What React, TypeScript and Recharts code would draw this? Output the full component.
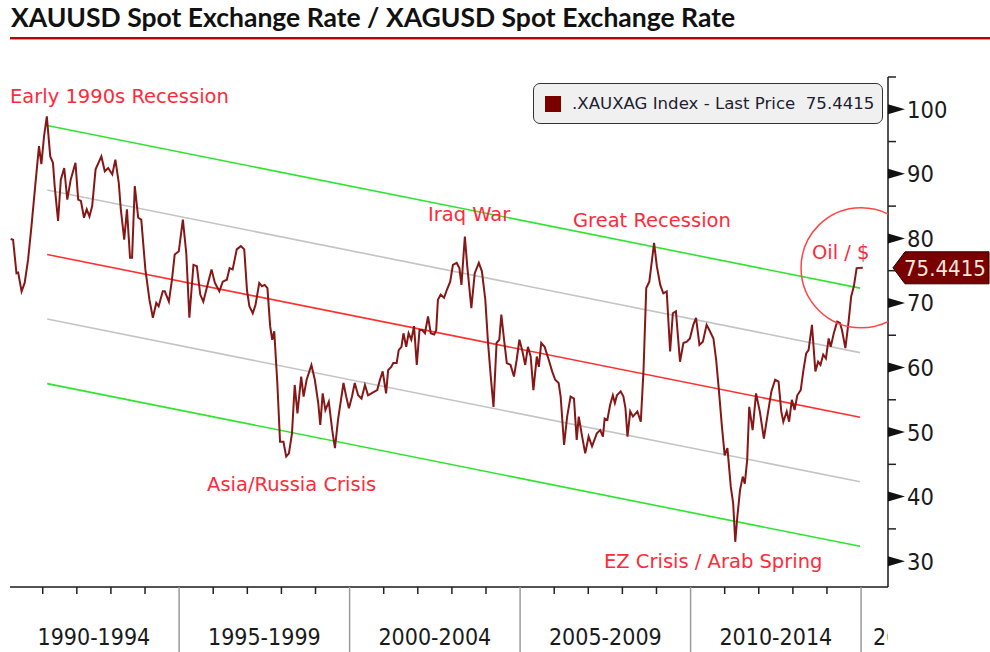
import {
  ComposedChart,
  Legend,
  Line,
  ReferenceDot,
  ReferenceLine,
  XAxis,
  YAxis,
} from "recharts";

// gold / silver ratio as [year, ratio]
const RATIO_1990S: [number, number][] = [
  [1990.06, 79.9], [1990.13, 79.8], [1990.23, 74.6], [1990.28, 74.7], [1990.38, 71.8],
  [1990.47, 73.1], [1990.57, 76.7], [1990.67, 81.9], [1990.77, 87.6], [1990.89, 94.3],
  [1990.96, 91.5], [1991.04, 95.9], [1991.12, 98.9], [1991.22, 92.7], [1991.3, 91.7],
  [1991.35, 88.1], [1991.45, 82.7], [1991.53, 89.1], [1991.63, 90.9], [1991.72, 86.0],
  [1991.82, 89.1], [1991.96, 91.7], [1992.04, 86.0], [1992.12, 85.8], [1992.21, 83.2],
  [1992.29, 84.5], [1992.37, 83.4], [1992.45, 85.0], [1992.55, 90.7], [1992.72, 92.7],
  [1992.82, 90.4], [1992.92, 90.9], [1993.04, 89.9], [1993.13, 92.2], [1993.23, 88.6],
  [1993.29, 84.5], [1993.39, 79.8], [1993.47, 84.5], [1993.56, 77.0], [1993.62, 77.0],
  [1993.7, 88.1], [1993.8, 83.2], [1993.89, 82.9], [1994.01, 75.2], [1994.13, 70.5],
  [1994.23, 67.7], [1994.33, 70.0], [1994.4, 69.5], [1994.52, 71.8], [1994.58, 71.8],
  [1994.7, 70.2], [1994.79, 73.6], [1994.87, 77.5], [1994.99, 78.0], [1995.11, 82.9],
  [1995.21, 77.7], [1995.3, 67.7], [1995.42, 75.9], [1995.52, 75.7], [1995.62, 71.3],
  [1995.71, 70.2], [1995.81, 72.3], [1995.95, 75.2], [1996.05, 73.1], [1996.18, 71.8],
  [1996.28, 73.3], [1996.4, 73.6], [1996.48, 75.4], [1996.57, 75.2], [1996.69, 78.3],
  [1996.81, 78.8], [1996.91, 78.3], [1996.99, 72.0], [1997.06, 69.5], [1997.16, 68.4],
  [1997.24, 69.7], [1997.35, 73.1], [1997.43, 72.6], [1997.51, 72.8], [1997.59, 72.3],
  [1997.67, 66.4], [1997.73, 64.3], [1997.79, 65.6], [1997.88, 57.6], [1997.96, 48.5],
  [1998.06, 48.5], [1998.14, 46.2], [1998.22, 46.7], [1998.31, 49.8], [1998.39, 57.3],
  [1998.47, 52.9], [1998.58, 58.6], [1998.65, 55.5], [1998.74, 58.1], [1998.88, 60.4],
  [1998.98, 58.1], [1999.08, 54.5], [1999.14, 51.1], [1999.21, 56.0], [1999.29, 53.4],
  [1999.39, 54.7], [1999.49, 50.3], [1999.57, 47.5], [1999.66, 51.9], [1999.82, 57.6],
  [1999.9, 55.5], [1999.98, 53.7],
];

const RATIO_2000S: [number, number][] = [
  [2000.07, 55.5], [2000.15, 57.6], [2000.25, 55.7], [2000.35, 55.2], [2000.45, 57.3],
  [2000.54, 55.7], [2000.64, 56.0], [2000.74, 56.3], [2000.81, 56.5], [2000.89, 58.1],
  [2000.97, 59.4], [2001.07, 56.0], [2001.13, 59.6], [2001.22, 60.1], [2001.28, 60.7],
  [2001.38, 60.7], [2001.44, 62.7], [2001.52, 63.2], [2001.58, 65.3], [2001.66, 63.2],
  [2001.73, 65.3], [2001.81, 64.3], [2001.89, 66.4], [2001.97, 60.4], [2002.05, 65.8],
  [2002.13, 65.8], [2002.21, 65.3], [2002.3, 67.9], [2002.38, 65.3], [2002.48, 65.1],
  [2002.54, 65.8], [2002.59, 70.5], [2002.67, 71.3], [2002.77, 70.8], [2002.85, 72.0],
  [2002.95, 73.3], [2003.03, 75.9], [2003.14, 76.2], [2003.22, 75.4], [2003.28, 72.8],
  [2003.38, 80.3], [2003.45, 75.7], [2003.57, 69.2], [2003.67, 74.6], [2003.79, 76.2],
  [2003.88, 74.9], [2003.98, 70.5], [2004.06, 63.8], [2004.14, 58.6], [2004.22, 53.9],
  [2004.31, 63.8], [2004.39, 64.3], [2004.45, 68.2], [2004.53, 64.3], [2004.61, 60.7],
  [2004.72, 60.4], [2004.82, 58.6], [2004.9, 61.2], [2004.98, 64.3], [2005.06, 62.7],
  [2005.15, 60.4], [2005.23, 63.2], [2005.31, 61.7], [2005.39, 56.5], [2005.49, 61.7],
  [2005.55, 60.1], [2005.62, 63.8], [2005.72, 63.2], [2005.84, 61.2], [2005.94, 59.4],
  [2006.03, 58.1], [2006.13, 57.6], [2006.19, 55.5], [2006.29, 48.0], [2006.38, 52.4],
  [2006.48, 55.5], [2006.58, 55.2], [2006.66, 48.8], [2006.72, 52.4], [2006.82, 49.3],
  [2006.91, 46.7], [2007.01, 49.3], [2007.11, 47.8], [2007.25, 49.8], [2007.35, 50.3],
  [2007.43, 49.3], [2007.48, 52.1], [2007.56, 51.9], [2007.64, 54.2], [2007.72, 55.7],
  [2007.78, 54.5], [2007.84, 55.7], [2007.95, 56.3], [2008.03, 55.5], [2008.09, 53.7],
  [2008.15, 49.3], [2008.23, 53.2], [2008.31, 52.4], [2008.44, 53.2], [2008.54, 51.6],
  [2008.62, 59.6], [2008.7, 72.3], [2008.79, 73.3], [2008.93, 79.3], [2009.01, 75.7],
  [2009.11, 72.8], [2009.2, 71.5], [2009.3, 71.8], [2009.4, 62.5], [2009.48, 68.4],
  [2009.57, 68.7], [2009.69, 60.9], [2009.79, 63.8], [2009.89, 64.0], [2009.98, 64.5],
];

const RATIO_2010S: [number, number][] = [
  [2010.08, 66.6], [2010.16, 67.7], [2010.26, 63.5], [2010.36, 64.0], [2010.47, 66.6],
  [2010.55, 65.8], [2010.67, 64.5], [2010.75, 61.2], [2010.83, 56.5], [2010.92, 50.8],
  [2011.0, 46.4], [2011.08, 47.5], [2011.18, 41.5], [2011.25, 38.9], [2011.31, 33.0],
  [2011.37, 36.8], [2011.45, 41.0], [2011.53, 43.1], [2011.59, 42.0], [2011.66, 45.7],
  [2011.72, 53.9], [2011.82, 50.3], [2011.92, 56.0], [2012.03, 53.2], [2012.15, 49.0],
  [2012.25, 52.4], [2012.37, 56.3], [2012.48, 58.1], [2012.58, 57.8], [2012.66, 53.2],
  [2012.72, 51.6], [2012.82, 53.2], [2012.89, 51.6], [2012.97, 55.0], [2013.05, 53.4],
  [2013.13, 55.7], [2013.23, 56.5], [2013.31, 59.6], [2013.39, 62.2], [2013.46, 62.7],
  [2013.56, 66.6], [2013.66, 59.4], [2013.74, 60.9], [2013.81, 60.4], [2013.89, 62.0],
  [2013.97, 61.4], [2014.05, 64.5], [2014.11, 63.2], [2014.2, 65.3], [2014.3, 67.1],
  [2014.38, 66.9], [2014.44, 65.8], [2014.54, 63.0], [2014.63, 66.9], [2014.71, 71.0],
  [2014.79, 72.6], [2014.87, 75.4], [2015.05, 75.4415],
];

const LAST_PRICE = 75.4415;
const SERIES_NAME = ".XAUXAG Index - Last Price";

// regression channel: endpoints of the centre line, bands at +/- 10 and 20
const CHANNEL_X = [1991.13, 2014.97];
const CHANNEL_MID = [77.5, 52.3];
const CHANNEL_OFFSETS = [20, 10, 0, -10, -20];

const YEAR_TICKS = [
  1990, 1991, 1992, 1993, 1994, 1995, 1996, 1997, 1998, 1999, 2000, 2001, 2002,
  2003, 2004, 2005, 2006, 2007, 2008, 2009, 2010, 2011, 2012, 2013, 2014, 2015,
];
const PERIOD_LABELS = [
  "1990-1994", "1995-1999", "2000-2004", "2005-2009", "2010-2014", "2015-2019",
];
const RATIO_TICKS = [30, 35, 40, 45, 50, 55, 60, 65, 70, 75, 80, 85, 90, 95, 100, 105];

const EVENTS = [
  { label: "Early 1990s Recession", year: 1990.04, ratio: 100.97 },
  { label: "Iraq War", year: 2002.3, ratio: 82.7 },
  { label: "Great Recession", year: 2006.55, ratio: 81.77 },
  { label: "Oil / $", year: 2013.56, ratio: 76.81 },
  { label: "Asia/Russia Crisis", year: 1995.82, ratio: 40.87 },
  { label: "EZ Crisis / Arab Spring", year: 2007.46, ratio: 28.94 },
];

const X_DOMAIN: [number, number] = [1990.04, 2015.79];
const Y_DOMAIN: [number, number] = [26, 105];

const W = 990;
const H = 652;
const PLOT_LEFT = 10;
const PLOT_RIGHT = 888;
const PLOT_TOP = 77;
const PLOT_BOTTOM = 587;
const YEAR_PX = (PLOT_RIGHT - PLOT_LEFT) / (X_DOMAIN[1] - X_DOMAIN[0]);

const FONT = "'DejaVu Sans Condensed', 'DejaVu Sans', sans-serif";
const WIDE_FONT = "'DejaVu Sans', sans-serif";
const LINE_COLOR = "#861717";
const NOTE_RED = "#ff2a3a";

const data = [...RATIO_1990S, ...RATIO_2000S, ...RATIO_2010S].map(([year, ratio]) => ({
  year,
  ratio,
}));

function channelColor(offset: number) {
  if (offset === 0) return "#ff3030";
  if (Math.abs(offset) === 20) return "#2ee52e";
  return "#c4c4c4";
}

function YearTick({ x, y, payload }: any) {
  const yr = payload.value as number;
  if (yr % 5 !== 0) {
    return <line x1={x} x2={x} y1={y} y2={y + 7} stroke="#222" strokeWidth={1.5} />;
  }
  const label = PERIOD_LABELS[(yr - 1990) / 5];
  const last = yr === 2015;
  return (
    <g>
      {yr > 1990 && (
        <line x1={x} x2={x} y1={y} y2={H} stroke="#9a9a9a" strokeWidth={1.5} />
      )}
      {last && (
        <defs>
          <clipPath id="period-clip">
            <rect x={PLOT_LEFT} y={y} width={PLOT_RIGHT - PLOT_LEFT} height={H - y} />
          </clipPath>
        </defs>
      )}
      <text
        x={last ? x + 12 : x + 2.5 * YEAR_PX}
        y={y + 58}
        textAnchor={last ? "start" : "middle"}
        fontFamily={FONT}
        fontSize={23}
        fill="#1a1a1a"
        clipPath={last ? "url(#period-clip)" : undefined}
      >
        {label}
      </text>
    </g>
  );
}

function RatioTick({ x, y, payload }: any) {
  const v = payload.value as number;
  if (v % 10 !== 0) {
    return <line x1={x} x2={x + 8} y1={y} y2={y} stroke="#222" strokeWidth={1.5} />;
  }
  return (
    <g>
      <polygon points={`${x},${y - 5} ${x + 17},${y} ${x},${y + 5}`} fill="#111" />
      <text x={x + 19} y={y + 8.5} fontFamily={FONT} fontSize={23.5} fill="#1a1a1a">
        {v}
      </text>
    </g>
  );
}

function LegendBox({ payload }: any) {
  const item = payload?.[0];
  return (
    <div
      style={{
        boxSizing: "border-box",
        width: 350,
        height: 41,
        border: "1.5px solid #333",
        borderRadius: 7,
        background: "#f0f0f0",
        display: "flex",
        alignItems: "center",
        paddingLeft: 11,
        fontFamily: WIDE_FONT,
        fontSize: 16.6,
        color: "#1e1e30",
        whiteSpace: "pre",
      }}
    >
      <span
        style={{ width: 16, height: 16, background: "#7a0000", marginRight: 11 }}
      />
      <span>{`${item?.value ?? SERIES_NAME}  ${LAST_PRICE}`}</span>
    </div>
  );
}

function PriceTag({ cx, cy }: any) {
  const tip = cx + 5;
  return (
    <g>
      <polygon
        points={`${tip},${cy} ${tip + 12},${cy - 16} ${W - 1},${cy - 16} ${W - 1},${cy + 16} ${tip + 12},${cy + 16}`}
        fill="#7a0000"
        stroke="#2a0000"
        strokeWidth={1}
      />
      <text x={tip + 11} y={cy + 8} fontFamily={FONT} fontSize={22} fill="#f6e8de">
        {LAST_PRICE}
      </text>
    </g>
  );
}

function OilCircle({ cx, cy }: any) {
  return (
    <g>
      <defs>
        <clipPath id="plot-clip">
          <rect
            x={PLOT_LEFT}
            y={PLOT_TOP}
            width={PLOT_RIGHT - PLOT_LEFT}
            height={PLOT_BOTTOM - PLOT_TOP}
          />
        </clipPath>
      </defs>
      <circle
        cx={cx}
        cy={cy}
        r={60}
        fill="none"
        stroke="#ff4545"
        strokeWidth={1.5}
        clipPath="url(#plot-clip)"
      />
    </g>
  );
}

function EventLabel({ cx, cy, label }: any) {
  return (
    <text x={cx} y={cy} fontFamily={WIDE_FONT} fontSize={19.5} fill={NOTE_RED}>
      {label}
    </text>
  );
}

export default function App() {
  return (
    <div
      style={{ position: "absolute", left: 0, top: 0, width: W, height: H, background: "#fff" }}
    >
      <ComposedChart
        width={W}
        height={H}
        data={data}
        margin={{ top: PLOT_TOP, right: 0, bottom: 0, left: PLOT_LEFT }}
      >
        <XAxis
          type="number"
          dataKey="year"
          domain={X_DOMAIN}
          ticks={YEAR_TICKS}
          interval={0}
          allowDataOverflow
          height={H - PLOT_BOTTOM}
          tickSize={0}
          tickMargin={0}
          tickLine={false}
          axisLine={{ stroke: "#1a1a1a", strokeWidth: 1.5 }}
          tick={<YearTick />}
        />
        <YAxis
          orientation="right"
          type="number"
          domain={Y_DOMAIN}
          ticks={RATIO_TICKS}
          interval={0}
          allowDataOverflow
          width={W - PLOT_RIGHT}
          tickSize={0}
          tickMargin={0}
          tickLine={false}
          axisLine={{ stroke: "#1a1a1a", strokeWidth: 1.5 }}
          tick={<RatioTick />}
        />
        {CHANNEL_OFFSETS.map((off) => (
          <ReferenceLine
            key={off}
            segment={[
              { x: CHANNEL_X[0], y: CHANNEL_MID[0] + off },
              { x: CHANNEL_X[1], y: CHANNEL_MID[1] + off },
            ]}
            stroke={channelColor(off)}
            strokeWidth={1.6}
          />
        ))}
        <Line
          type="linear"
          dataKey="ratio"
          name={SERIES_NAME}
          stroke={LINE_COLOR}
          strokeWidth={2}
          dot={false}
          activeDot={false}
          isAnimationActive={false}
        />
        <ReferenceDot
          x={2015.0}
          y={LAST_PRICE}
          ifOverflow="visible"
          shape={(p: any) => <OilCircle {...p} />}
        />
        {EVENTS.map((e) => (
          <ReferenceDot
            key={e.label}
            x={e.year}
            y={e.ratio}
            ifOverflow="visible"
            shape={(p: any) => <EventLabel {...p} label={e.label} />}
          />
        ))}
        <ReferenceDot
          x={X_DOMAIN[1]}
          y={LAST_PRICE}
          ifOverflow="visible"
          shape={(p: any) => <PriceTag {...p} />}
        />
        <Legend
          layout="horizontal"
          verticalAlign="middle"
          align="center"
          wrapperStyle={{ left: 533, top: 83, width: 350, height: 41 }}
          content={<LegendBox />}
        />
      </ComposedChart>
      <div
        style={{
          position: "absolute",
          left: 11,
          top: 1,
          fontFamily: "Lato, 'Open Sans', sans-serif",
          fontWeight: 700,
          fontSize: 26.5,
          color: "#111",
          whiteSpace: "nowrap",
        }}
      >
        XAUUSD Spot Exchange Rate / XAGUSD Spot Exchange Rate
      </div>
      <div
        style={{
          position: "absolute",
          left: 10,
          top: 37,
          width: W - 10,
          height: 2,
          background: "#c00000",
          borderBottom: "1px solid #e89090",
        }}
      />
    </div>
  );
}
